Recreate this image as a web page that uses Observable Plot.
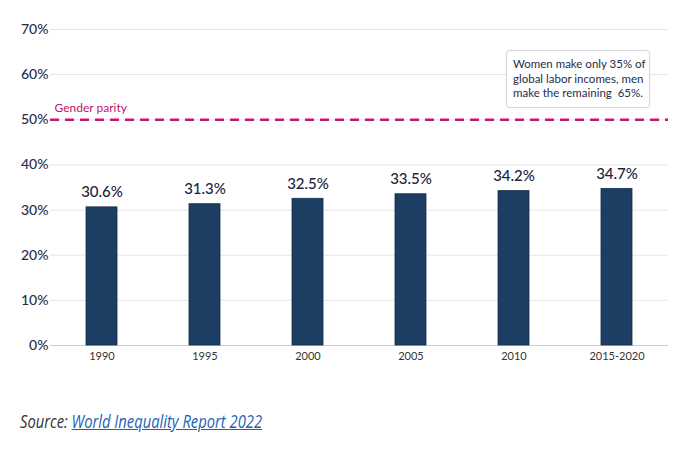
<!DOCTYPE html>
<html>
<head>
<meta charset="utf-8">
<script src="https://cdn.jsdelivr.net/npm/d3@7"></script>
<script src="https://cdn.jsdelivr.net/npm/@observablehq/plot@0.6"></script>
<style>
  html, body { margin: 0; padding: 0; background: #fff; }
  #wrap { position: relative; width: 696px; height: 464px; overflow: hidden; }
  #chart svg { display: block; }
  #note {
    position: absolute; left: 506px; top: 50px; width: 130px; height: 44px;
    border: 1px solid #d4d7dc; border-radius: 4px; background: #fff;
    padding: 6px 6px 6px 6px; font-family: Lato, sans-serif; font-size: 11.5px;
    line-height: 14.5px; color: #1f2d4a; white-space: pre; box-shadow: 0 0 2px rgba(0,0,0,0.08);
  }
  #caption {
    position: absolute; left: 20px; top: 409px; font-family: "Open Sans", sans-serif;
    font-style: italic; font-size: 18px; color: #333; white-space: nowrap;
    transform-origin: 0 50%;
  }
  #caption a { color: #1d5fb3; text-decoration: underline; }
</style>
</head>
<body>
<div id="wrap">
  <div id="chart"></div>
  <div id="note"></div>
  <div id="caption"></div>
</div>
<script>
const years = ["1990", "1995", "2000", "2005", "2010", "2015-2020"];
const shares = [30.6, 31.3, 32.5, 33.5, 34.2, 34.7];
const yTicks = [0, 10, 20, 30, 40, 50, 60, 70];
const parity = 50;
const parityLabel = "Gender parity";
const noteText = "Women make only 35% of\nglobal labor incomes, men\nmake the remaining  65%.";
const sourceLabel = "Source: ";
const sourceLink = "World Inequality Report 2022";

const data = years.map((year, i) => ({year, share: shares[i]}));

const chart = Plot.plot({
  width: 696,
  height: 380,
  marginTop: 29,
  marginBottom: 35,
  marginLeft: 50,
  marginRight: 28,
  style: {fontFamily: "Lato, sans-serif", background: "#fff"},
  x: {domain: years, paddingInner: 0.7, paddingOuter: 0.35, label: null},
  y: {domain: [0, 70], label: null},
  marks: [
    Plot.gridY(yTicks, {stroke: "#e3e5e8", strokeOpacity: 1}),
    Plot.axisY(yTicks, {tickSize: 0, tickPadding: 2, tickFormat: d => d + "%", fontSize: 14, fontWeight: 500, fill: "#1f2d4a", label: null}),
    Plot.axisX({tickSize: 0, tickPadding: 7, fontSize: 11, fill: "#333", label: null}),
    Plot.ruleY([0], {stroke: "#c9ccd1"}),
    Plot.barY(data, {x: "year", y: "share", fill: "#1c3e62", stroke: "#142f4c", strokeWidth: 0.8}),
    Plot.text(data, {x: "year", y: "share", text: d => d.share.toFixed(1) + "%", dy: -15, fontSize: 15, fontWeight: 500, fill: "#1a2540"}),
    Plot.ruleY([parity], {stroke: "#c8176f", strokeWidth: 2.5, strokeDasharray: "9,6"}),
    Plot.text([{y: parity, label: parityLabel}], {y: "y", text: "label", frameAnchor: "left", textAnchor: "start", dx: 4, dy: -12, fontSize: 12, fill: "#c0136b"})
  ]
});
document.getElementById("chart").appendChild(chart);
document.getElementById("note").textContent = noteText;
const cap = document.getElementById("caption");
cap.appendChild(document.createTextNode(sourceLabel));
const a = document.createElement("a");
a.href = "#";
a.textContent = sourceLink;
cap.appendChild(a);
const w = cap.getBoundingClientRect().width;
cap.style.transform = `scaleX(${242 / w})`;
</script>
</body>
</html>
